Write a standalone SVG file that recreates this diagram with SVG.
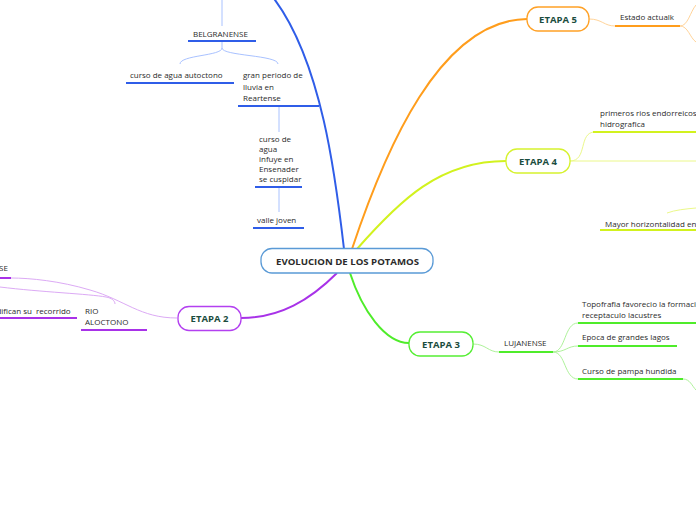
<svg xmlns="http://www.w3.org/2000/svg" width="696" height="520" viewBox="0 0 696 520">
<style>
text{font-family:"Open Sans","Noto Sans","DejaVu Sans",sans-serif;fill:#2b2b2b;font-size:8px}
.c{fill:none}
.thin{fill:none;stroke-width:1}
.ul{stroke-width:2;fill:none}
.et{font-weight:bold;font-size:9.5px;fill:#1b4d3e;text-anchor:middle}
.bl{stroke:#2f5de8}.blt{stroke:#a9c2ff}
.pu{stroke:#a832e8}.put{stroke:#dcaaf5}
.or{stroke:#ff9d1c}.ort{stroke:#ffd49a}
.ye{stroke:#d2f21e}.yet{stroke:#ebf88a}
.gr{stroke:#4fec2a}.grt{stroke:#aef29a}
</style>
<rect width="696" height="520" fill="#fff"/>
<g id="connectors">
  <path class="c bl" stroke-width="2" d="M344,249 C336,180 322,60 272,-4"/>
  <path class="c pu" stroke-width="2" d="M337,273 C310,300 280,318 241,318"/>
  <path class="c or" stroke-width="2" d="M352,249 C385,150 440,20 527,19"/>
  <path class="c ye" stroke-width="2" d="M357,249 C400,200 440,161 506,161"/>
  <path class="c gr" stroke-width="2" d="M350,273 C362,310 385,343 409,343"/>
  <line class="thin blt" x1="222" y1="0" x2="222" y2="26"/>
  <path class="thin blt" d="M222,41 L222,48 C222,56 180,55 180,64"/>
  <path class="thin blt" d="M222,48 C222,56 278,55 278,64"/>
  <line class="thin blt" x1="279" y1="106" x2="279" y2="132"/>
  <line class="thin blt" x1="279" y1="188" x2="279" y2="212"/>
  <path class="thin put" d="M177,318 C140,318 125,300 90,290 C60,281 30,278 11,278"/>
  <path class="thin put" d="M0,287 C40,292 90,294 106,297 C112,298 115,301 115,304"/>
  <path class="thin ort" d="M589,19 C602,19 604,26 615,26"/>
  <path class="thin ort" d="M680,26 C688,26 690,12 696,5"/>
  <path class="thin ort" d="M680,26 C688,26 690,38 696,42"/>
  <path class="thin yet" d="M570,161 C588,161 578,132 595,132"/>
  <line class="thin yet" x1="570" y1="161" x2="696" y2="161"/>
  <path class="thin yet" d="M667,213 C675,210 685,209 696,208"/>
  <path class="thin grt" d="M473,344 C486,344 488,352 499,352"/>
  <path class="thin grt" d="M553,352 C566,352 564,323 578,323"/>
  <path class="thin grt" d="M553,352 C566,352 567,346 578,346"/>
  <path class="thin grt" d="M553,352 C566,352 564,379 578,379"/>
  <path class="thin grt" d="M683,379 C690,379 692,386 696,390"/>
</g>
<g id="central">
  <rect x="261" y="248.5" width="172" height="24.5" rx="11" fill="#fff" stroke="#5a9ad6" stroke-width="1.3"/>
  <text x="276" y="264.5" font-weight="bold" font-size="10.5" fill="#1b2a4e" textLength="143" lengthAdjust="spacingAndGlyphs">EVOLUCION DE LOS POTAMOS</text>
</g>
<g id="belgranense">
  <text x="193" y="37" font-size="9.2">BELGRANENSE</text>
  <line class="ul bl" x1="188" y1="41" x2="256" y2="41"/>
</g>
<g id="autoctono">
  <text x="130" y="78" font-size="8.9">curso de agua autoctono</text>
  <line class="ul bl" x1="126" y1="83" x2="234" y2="83"/>
</g>
<g id="gran-periodo">
  <text x="243" y="78" font-size="8.7">gran periodo de</text>
  <text x="243" y="89.5" font-size="8.7">lluvia en</text>
  <text x="243" y="101" font-size="8.7">Reartense</text>
  <line class="ul bl" x1="238" y1="106" x2="319" y2="106"/>
</g>
<g id="ensenader">
  <text x="259" y="142" font-size="7.6">curso de</text>
  <text x="259" y="152" font-size="7.6">agua</text>
  <text x="259" y="162" font-size="7.6">infuye en</text>
  <text x="259" y="172" font-size="7.6">Ensenader</text>
  <text x="259" y="182" font-size="7.6">se cuspidar</text>
  <line class="ul bl" x1="255" y1="187" x2="302" y2="187"/>
</g>
<g id="valle-joven">
  <text x="257" y="223" font-size="8.8">valle joven</text>
  <line class="ul bl" x1="253" y1="228" x2="304" y2="228"/>
</g>
<g id="etapa2">
  <rect x="178" y="306.5" width="63" height="24" rx="11" fill="#fff" stroke="#b340f0" stroke-width="1.3"/>
  <text class="et" x="209.5" y="322">ETAPA 2</text>
</g>
<g id="se">
  <text x="-1" y="271" font-size="8.8">SE</text>
  <line class="ul pu" x1="0" y1="278" x2="11" y2="278"/>
</g>
<g id="recorrido">
  <text x="32" y="314" text-anchor="end" font-size="7.9">modifican su</text>
  <text x="36" y="314" font-size="7.9">recorrido</text>
  <line class="ul pu" x1="0" y1="318" x2="77" y2="318"/>
</g>
<g id="rio-alocto">
  <text x="85" y="314" font-size="7.8">RIO</text>
  <text x="85" y="325" font-size="7.8">ALOCTONO</text>
  <line class="ul pu" x1="81" y1="330" x2="147" y2="330"/>
</g>
<g id="etapa5">
  <rect x="527" y="7" width="62" height="24" rx="11" fill="#fff" stroke="#ffa126" stroke-width="1.3"/>
  <text class="et" x="558" y="22.5">ETAPA 5</text>
</g>
<g id="estado">
  <text x="620" y="20" font-size="7.9">Estado actualk</text>
  <line class="ul or" x1="615" y1="26" x2="680" y2="26"/>
</g>
<g id="etapa4">
  <rect x="506" y="149" width="64" height="24" rx="11" fill="#fff" stroke="#d6f22e" stroke-width="1.3"/>
  <text class="et" x="538" y="164.5">ETAPA 4</text>
</g>
<g id="primeros">
  <text x="600" y="116" font-size="7.9">primeros rios endorreicos</text>
  <text x="600" y="127" font-size="7.9">hidrografica</text>
  <line class="ul ye" x1="593" y1="132" x2="696" y2="132"/>
</g>
<g id="mayor">
  <text x="605" y="227" font-size="7.9">Mayor horizontalidad en</text>
  <line class="ul ye" x1="600" y1="230" x2="696" y2="230"/>
</g>
<g id="etapa3">
  <rect x="409" y="332" width="64" height="24" rx="11" fill="#fff" stroke="#55ee33" stroke-width="1.3"/>
  <text class="et" x="441" y="347.5">ETAPA 3</text>
</g>
<g id="lujanense">
  <text x="504" y="346" font-size="8.6">LUJANENSE</text>
  <line class="ul gr" x1="499" y1="352" x2="553" y2="352"/>
</g>
<g id="topofrafia">
  <text x="582" y="307" font-size="8">Topofrafia favorecio la formacion</text>
  <text x="582" y="318" font-size="8">receptaculo lacustres</text>
  <line class="ul gr" x1="578" y1="323" x2="696" y2="323"/>
</g>
<g id="epoca">
  <text x="582" y="340" font-size="8.1">Epoca de grandes lagos</text>
  <line class="ul gr" x1="578" y1="346" x2="677" y2="346"/>
</g>
<g id="curso-pampa">
  <text x="582" y="374" font-size="8">Curso de pampa hundida</text>
  <line class="ul gr" x1="578" y1="379" x2="683" y2="379"/>
</g>
</svg>
